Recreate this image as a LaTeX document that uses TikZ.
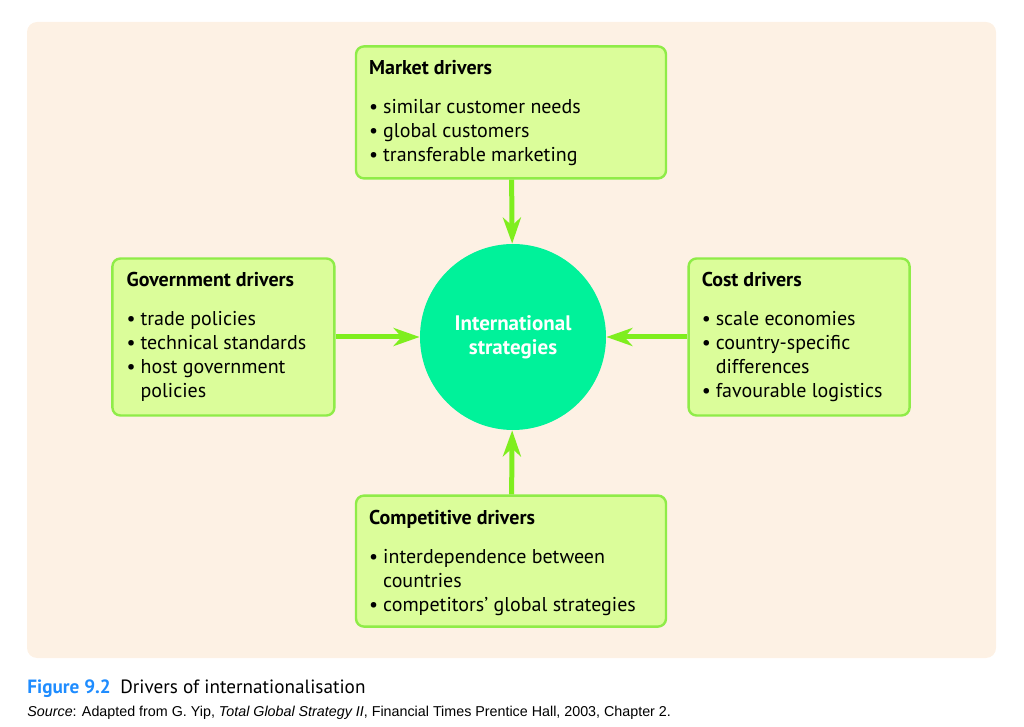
\documentclass[tikz,border=0pt]{standalone}
\usepackage{fontspec}
\setmainfont{PT Sans}
\newfontfamily\srcfont{Liberation Sans}
\usepackage{tikz}
\usetikzlibrary{positioning,arrows.meta}
\definecolor{peach}{HTML}{FDF1E4}
\definecolor{limefill}{HTML}{DBFD9A}
\definecolor{limeedge}{HTML}{8FEC48}
\definecolor{arrowgreen}{HTML}{7FEE1E}
\definecolor{mint}{HTML}{00F29A}
\definecolor{capblue}{HTML}{1E8CFF}
\newcommand{\bul}[1]{\makebox[7pt][l]{\textbullet}#1}
\newcommand{\cont}[1]{\hspace*{7pt}#1}
\tikzset{
  backdrop/.style={fill=peach, rounded corners=5pt},
  driver/.style={rectangle, draw=limeedge, fill=limefill, line width=1.2pt, rounded corners=4pt, inner sep=0pt},
  drvtext/.style={anchor=north west, inner sep=0pt, align=left, font=\fontsize{10}{12}\selectfont},
  strat/.style={circle, fill=mint, minimum size=93pt, inner sep=0pt, text=white, align=center, font=\fontsize{10.5}{12}\selectfont\bfseries},
  push/.style={draw=arrowgreen, line width=2.5pt, -{Stealth[length=13pt,width=9pt,inset=4pt]}},
}

\begin{document}
\begin{tikzpicture}[x=0.5pt,y=-0.5pt]
    \useasboundingbox (0,0) rectangle (1024,727);
    \fill[backdrop] (27,22) rectangle (996,658);

    \node[strat] (intl) at (513,337) {International\\strategies};

    \node[driver, minimum width=155pt, minimum height=66pt, above=32pt of intl, xshift=-1pt] (market) {};
    \node[driver, minimum width=111pt, minimum height=78.5pt, left=42pt of intl] (govt) {};
    \node[driver, minimum width=110.5pt, minimum height=78.5pt, right=40.5pt of intl] (cost) {};
    \node[driver, minimum width=155pt, minimum height=65.5pt, below=32pt of intl, xshift=-1pt] (comp) {};

    % texts in the boxes
    \node[drvtext] (markettxt) at ([xshift=7pt,yshift=-7.5pt]market.north west)
      {\textbf{Market drivers}\\[7.5pt]
       \bul{similar customer needs}\\
       \bul{global customers}\\
       \bul{transferable marketing}};
    \node[drvtext] (govttxt) at ([xshift=7.5pt,yshift=-7.5pt]govt.north west)
      {\textbf{Government drivers}\\[7.5pt]
       \bul{trade policies}\\
       \bul{technical standards}\\
       \bul{host government}\\
       \cont{policies}};
    \node[drvtext] (costtxt) at ([xshift=7pt,yshift=-7.5pt]cost.north west)
      {\textbf{Cost drivers}\\[7.5pt]
       \bul{scale economies}\\
       \bul{country-specific}\\
       \cont{differences}\\
       \bul{favourable logistics}};
    \node[drvtext] (comptxt) at ([xshift=7pt,yshift=-7.5pt]comp.north west)
      {\textbf{Competitive drivers}\\[7.5pt]
       \bul{interdependence between}\\
       \cont{countries}\\
       \bul{competitors' global strategies}};

    \draw[push] (market) -- (intl);
    \draw[push] (govt) -- (intl);
    \draw[push] (cost) -- (intl);
    \draw[push] (comp) -- (intl);

    % caption
    \node[anchor=base west, inner sep=0pt, font=\fontsize{9.6}{12}\selectfont] (fig) at (27,693)
      {\textcolor{capblue}{\bfseries Figure 9.2}\enspace Drivers of internationalisation};
    \node[anchor=base west, inner sep=0pt, font=\srcfont\fontsize{7.15}{8}\selectfont] (src) at (27,716)
      {\textit{Source}: Adapted from G. Yip, \textit{Total Global Strategy II}, Financial Times Prentice Hall, 2003, Chapter 2.};
\end{tikzpicture}
\end{document}
